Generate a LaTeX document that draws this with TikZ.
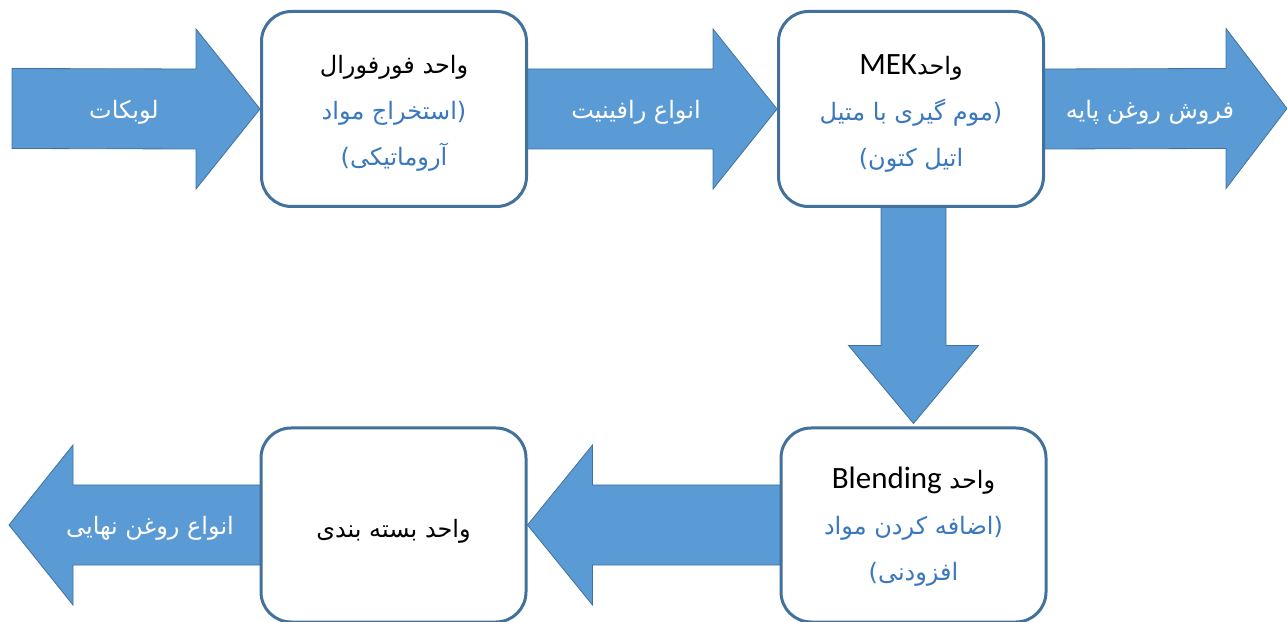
\documentclass[tikz,border=0pt]{standalone}
\usepackage{fontspec}
\setmainfont{Carlito}
\newfontfamily\fa[Script=Arabic]{DejaVu Sans}
\newfontfamily\lat{Carlito}
\TeXXeTstate=1
\usetikzlibrary{calc,backgrounds}
\definecolor{boxline}{HTML}{41719C}
\definecolor{arrfill}{HTML}{5B9BD5}
\definecolor{subblue}{HTML}{3A78BE}
\newcommand\rl[1]{\beginR#1\endR}
\newcommand\lr[1]{\beginL#1\endL{}}
\begin{document}
\begin{tikzpicture}[x=1pt,y=1pt,
  unitbox/.style={draw=boxline, line width=3pt, rounded corners=30pt, fill=white,
    minimum width=265pt, minimum height=195pt, inner sep=0pt},
  blockarrow/.style={fill=arrfill, draw=boxline, line width=0.8pt, line join=miter},
  arrlabel/.style={text=white, font=\fa\fontsize{24}{28}\selectfont, inner sep=0pt},
  boxtext/.style={align=center, inner sep=0pt, font=\fa\fontsize{24}{46}\selectfont},
  ]
\useasboundingbox (0,0) rectangle (1287,621);
% boxes
\node[unitbox] (b1) at (394,512) {};
\node[unitbox] (b2) at (911,512) {};
\node[unitbox, minimum height=194pt] (b3) at (913.5,96) {};
\node[unitbox, minimum height=194pt] (b4) at (393.5,96) {};
% free ends
\coordinate (src) at (12,512.5);
\coordinate (sink1) at (1287,512.5);
\coordinate (sink2) at (9,96);
% arrows
\begin{scope}[on background layer]
\draw[blockarrow] ($(src)+(0,40)$) -- ($(b1.west)+(-64,40)$) -- ($(b1.west)+(-64,80)$)
  -- (b1.west) -- ($(b1.west)+(-64,-80)$) -- ($(b1.west)+(-64,-40)$) -- ($(src)+(0,-40)$) -- cycle;
\draw[blockarrow] ($(b1.east)+(-3,40)$) -- ($(b2.west)+(-64,40)$) -- ($(b2.west)+(-64,80)$)
  -- (b2.west) -- ($(b2.west)+(-64,-80)$) -- ($(b2.west)+(-64,-40)$) -- ($(b1.east)+(-3,-40)$) -- cycle;
\draw[blockarrow] ($(b2.east)+(-3,40)$) -- ($(sink1)+(-61,40)$) -- ($(sink1)+(-61,80)$)
  -- (sink1) -- ($(sink1)+(-61,-80)$) -- ($(sink1)+(-61,-40)$) -- ($(b2.east)+(-3,-40)$) -- cycle;
\draw[blockarrow] ($(b3.north |- b2.south)+(-32.5,3)$) -- ($(b3.north)+(-32.5,81)$) -- ($(b3.north)+(-65,81)$)
  -- ($(b3.north)+(0,3)$) -- ($(b3.north)+(65,81)$) -- ($(b3.north)+(32.5,81)$) -- ($(b3.north |- b2.south)+(32.5,3)$) -- cycle;
\draw[blockarrow] ($(b3.west)+(3,40)$) -- ($(b4.east)+(65,40)$) -- ($(b4.east)+(65,80)$)
  -- (b4.east) -- ($(b4.east)+(65,-80)$) -- ($(b4.east)+(65,-40)$) -- ($(b3.west)+(3,-40)$) -- cycle;
\draw[blockarrow] ($(b4.west)+(3,40)$) -- ($(sink2)+(64,40)$) -- ($(sink2)+(64,80)$)
  -- (sink2) -- ($(sink2)+(64,-80)$) -- ($(sink2)+(64,-40)$) -- ($(b4.west)+(3,-40)$) -- cycle;
\end{scope}
% arrow labels
\node[arrlabel] (l1) at (124,509) {\rl{لوبکات}};
\node[arrlabel] (l2) at (636,509) {\rl{انواع رافینیت}};
\node[arrlabel] (l3) at (1150,509) {\rl{فروش روغن پایه}};
\node[arrlabel] (l4) at (150,93) {\rl{انواع روغن نهایی}};
% box texts
\node[boxtext] (t1) at ($(b1.center)+(0,-4)$) {\rl{واحد فورفورال}\\ \color{subblue}\rl{(استخراج مواد}\\ \color{subblue}\rl{آروماتیکی)}};
\node[boxtext] (t2) at ($(b2.center)+(0,-4)$) {\rl{واحد\lr{\lat\fontsize{31}{46}\selectfont MEK}}\\ \color{subblue}\rl{(موم گیری با متیل}\\ \color{subblue}\rl{اتیل کتون)}};
\node[boxtext] (t3) at ($(b3.center)+(0,-2)$) {\rl{واحد \lr{\lat\fontsize{31}{46}\selectfont Blending}}\\ \color{subblue}\rl{(اضافه کردن مواد}\\ \color{subblue}\rl{افزودنی)}};
\node[boxtext] (t4) at ($(b4.center)+(0,-6)$) {\rl{واحد بسته بندی}};
\end{tikzpicture}
\end{document}
